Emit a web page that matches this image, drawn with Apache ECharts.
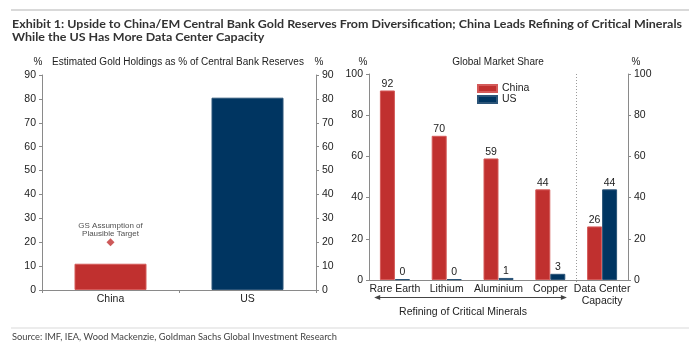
<!DOCTYPE html>
<html><head><meta charset="utf-8">
<script src="https://cdn.jsdelivr.net/npm/echarts@6/dist/echarts.min.js"></script>
<style>html,body{margin:0;padding:0;background:#fff}#c{width:698px;height:342px}</style>
</head><body><div id="c"></div>
<script>
const goldCats = ['China', 'US'];
const goldValues = [11, 80.5];
const goldTarget = [20, null];
const goldAxisMax = 90;
const goldAxisStep = 10;

const mineralCats = ['Rare Earth', 'Lithium', 'Aluminium', 'Copper', 'Data Center\nCapacity'];
const chinaShare = [92, 70, 59, 44, 26];
const usShare = [0.4, 0.4, 1, 3, 44];
const shareAxisMax = 100;
const shareAxisStep = 20;

const TITLE1 = 'Exhibit 1: Upside to China/EM Central Bank Gold Reserves From Diversification; China Leads Refining of Critical Minerals';
const TITLE2 = 'While the US Has More Data Center Capacity';
const SOURCE = 'Source: IMF, IEA, Wood Mackenzie, Goldman Sachs Global Investment Research';

const RED = '#C0302F', NAVY = '#003561', AXIS = '#8a8a8a', TXT = '#222';
const F = '"Liberation Sans", Arial, sans-serif';
const TFONT = 'bold 12px Lato, "Open Sans", sans-serif';
const SFONT = '9px Lato, "Open Sans", sans-serif';

const ctx = document.createElement('canvas').getContext('2d');
function textW(t, font) { ctx.font = font; return ctx.measureText(t).width; }
const titleScale = 670 / textW(TITLE1, TFONT);
const srcScale = 325 / textW(SOURCE, SFONT);

const chart = echarts.init(document.getElementById('c'));
const axLine = {show: true, lineStyle: {color: AXIS, width: 1}};
const yLab = {fontSize: 10.5, color: TXT, fontFamily: F, margin: 6};
const yTick = {show: true, length: 3, lineStyle: {color: AXIS}};

const baseGraphic = [
  {type: 'rect', shape: {x: 11, y: 9, width: 678, height: 2}, style: {fill: '#d9d9d9'}},
  {type: 'text', x: 12, y: 24.5, scaleX: titleScale, style: {text: TITLE1, font: TFONT, fill: '#333', verticalAlign: 'middle'}},
  {type: 'text', x: 12, y: 37.5, scaleX: titleScale, style: {text: TITLE2, font: TFONT, fill: '#333', verticalAlign: 'middle'}},
  {type: 'text', x: 178, y: 62, style: {text: 'Estimated Gold Holdings as % of Central Bank Reserves', font: '10px ' + F, fill: TXT, align: 'center', verticalAlign: 'middle'}},
  {type: 'text', x: 38, y: 62, style: {text: '%', font: '10px ' + F, fill: TXT, align: 'center', verticalAlign: 'middle'}},
  {type: 'text', x: 319, y: 62, style: {text: '%', font: '10px ' + F, fill: TXT, align: 'center', verticalAlign: 'middle'}},
  {type: 'text', x: 498, y: 62, style: {text: 'Global Market Share', font: '10px ' + F, fill: TXT, align: 'center', verticalAlign: 'middle'}},
  {type: 'text', x: 363, y: 62, style: {text: '%', font: '10px ' + F, fill: TXT, align: 'center', verticalAlign: 'middle'}},
  {type: 'text', x: 636, y: 62, style: {text: '%', font: '10px ' + F, fill: TXT, align: 'center', verticalAlign: 'middle'}},
  {type: 'text', x: 463, y: 312, style: {text: 'Refining of Critical Minerals', font: '10.5px ' + F, fill: TXT, align: 'center', verticalAlign: 'middle'}},
  {type: 'rect', shape: {x: 11, y: 327.5, width: 678, height: 1}, style: {fill: '#d9d9d9'}},
  {type: 'text', x: 12, y: 337, scaleX: srcScale, style: {text: SOURCE, font: SFONT, fill: '#444', verticalAlign: 'middle'}}
];

chart.setOption({
  animation: false,
  textStyle: {fontFamily: F},
  grid: [
    {left: 42, right: 382, top: 75, bottom: 52},
    {left: 369, right: 70, top: 74, bottom: 62}
  ],
  legend: {
    data: ['China', 'US'], orient: 'vertical', left: 472, top: 78,
    itemWidth: 19, itemHeight: 7, itemGap: 0, icon: 'rect',
    textStyle: {fontSize: 10.5, color: TXT, fontFamily: F}
  },
  xAxis: [
    {type: 'category', gridIndex: 0, data: goldCats, axisLine: axLine,
     axisTick: {show: true, length: 3, lineStyle: {color: AXIS}},
     axisLabel: {fontSize: 10.5, color: TXT, margin: 4, fontFamily: F}},
    {type: 'category', gridIndex: 1, data: mineralCats, axisLine: axLine,
     axisTick: {show: false},
     axisLabel: {interval: 0, fontSize: 10.5, color: TXT, margin: 3, fontFamily: F, lineHeight: 12}}
  ],
  yAxis: [
    {type: 'value', gridIndex: 0, min: 0, max: goldAxisMax, interval: goldAxisStep, position: 'left',
     axisLine: axLine, axisTick: yTick, splitLine: {show: false}, axisLabel: yLab},
    {type: 'value', gridIndex: 0, min: 0, max: goldAxisMax, interval: goldAxisStep, position: 'right',
     axisLine: axLine, axisTick: yTick, splitLine: {show: false}, axisLabel: yLab},
    {type: 'value', gridIndex: 1, min: 0, max: shareAxisMax, interval: shareAxisStep, position: 'left',
     axisLine: axLine, axisTick: yTick, splitLine: {show: false}, axisLabel: yLab},
    {type: 'value', gridIndex: 1, min: 0, max: shareAxisMax, interval: shareAxisStep, position: 'right',
     axisLine: axLine, axisTick: yTick, splitLine: {show: false}, axisLabel: yLab}
  ],
  series: [
    {type: 'bar', xAxisIndex: 0, yAxisIndex: 0, barWidth: 72,
     data: goldValues.map((v, i) => ({value: v, itemStyle: {color: i === 0 ? RED : NAVY,
       borderColor: i === 0 ? '#d45a59' : '#2b5478', borderWidth: 1}}))},
    {type: 'scatter', xAxisIndex: 0, yAxisIndex: 0, data: goldTarget, symbol: 'diamond', symbolSize: 8,
     itemStyle: {color: RED}, silent: true,
     label: {show: true, position: 'top', distance: 1, formatter: 'GS Assumption of\nPlausible Target',
       fontSize: 8, lineHeight: 7.5, color: TXT, fontFamily: F}},
    {name: 'China', type: 'bar', xAxisIndex: 1, yAxisIndex: 2, data: chinaShare, barWidth: 15, barGap: '0%',
     itemStyle: {color: RED, borderColor: '#d45a59', borderWidth: 1},
     label: {show: true, position: 'top', distance: 1, fontSize: 10.5, color: TXT, fontFamily: F,
       formatter: p => Math.round(p.value)}},
    {name: 'US', type: 'bar', xAxisIndex: 1, yAxisIndex: 2, data: usShare, barWidth: 15, barGap: '0%',
     itemStyle: {color: NAVY, borderColor: '#2b5478', borderWidth: 1},
     label: {show: true, position: 'top', distance: 1, fontSize: 10.5, color: TXT, fontFamily: F,
       formatter: p => Math.round(p.value)}}
  ],
  graphic: baseGraphic
});

// separator between minerals and data center, and arrow under minerals, from the axis scale
const p3 = chart.convertToPixel({xAxisIndex: 1}, mineralCats[3]);
const p4 = chart.convertToPixel({xAxisIndex: 1}, mineralCats[4]);
const p0 = chart.convertToPixel({xAxisIndex: 1}, mineralCats[0]);
const sepX = Math.round((p3 + p4) / 2) + 0.5;
const yTop = chart.convertToPixel({yAxisIndex: 2}, shareAxisMax);
const yBot = chart.convertToPixel({yAxisIndex: 2}, 0);
const step = p4 - p3;
const ax1 = p0 - step * 0.4, ax2 = p3 + step * 0.32, ay = 297.5;
chart.setOption({graphic: baseGraphic.concat([
  {type: 'line', shape: {x1: sepX, y1: yTop, x2: sepX, y2: yBot + 2}, style: {stroke: '#9a9a9a', lineWidth: 1, lineDash: [1, 2]}},
  {type: 'line', shape: {x1: ax1 + 3, y1: ay, x2: ax2 - 3, y2: ay}, style: {stroke: '#444', lineWidth: 1}},
  {type: 'polygon', shape: {points: [[ax1, ay], [ax1 + 6, ay - 2.5], [ax1 + 6, ay + 2.5]]}, style: {fill: '#444'}},
  {type: 'polygon', shape: {points: [[ax2, ay], [ax2 - 6, ay - 2.5], [ax2 - 6, ay + 2.5]]}, style: {fill: '#444'}}
])});
</script></body></html>
